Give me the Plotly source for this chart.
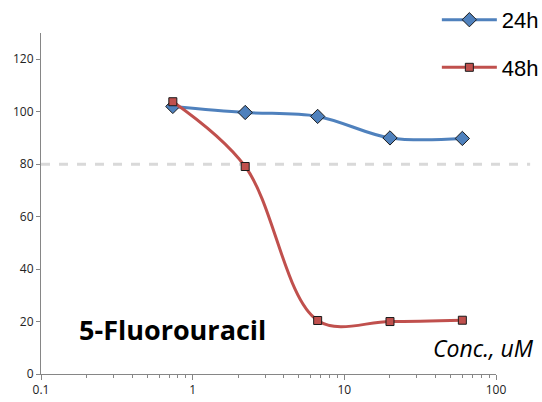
import plotly.graph_objects as go

# Concentrations (uM), three-fold dilution series
conc = [0.74, 2.22, 6.67, 20, 60]
# Viability (%) at each concentration
viab_24h = [102.0, 99.7, 98.2, 90.0, 89.8]
viab_48h = [103.8, 79.1, 20.4, 20.0, 20.5]
series_names = ["24h", "48h"]
y_ticks = [0, 20, 40, 60, 80, 100, 120]
x_ticks = [0.1, 1, 10, 100]
x_tick_labels = ["0.1", "1", "10", "100"]
threshold = 80

BLUE = "#4F81BD"
RED = "#C0504D"
AXIS = "#868686"

fig = go.Figure()
fig.add_trace(go.Scatter(
    x=conc, y=viab_24h, name=series_names[0], legendgroup="a",
    mode="lines+markers",
    line=dict(color=BLUE, width=3, shape="spline", smoothing=1),
    marker=dict(symbol="diamond", size=11, color=BLUE,
                line=dict(color="#1a1a1a", width=1)),
))
fig.add_trace(go.Scatter(
    x=conc, y=viab_48h, name=series_names[1], legendgroup="b",
    mode="lines+markers",
    line=dict(color=RED, width=3, shape="spline", smoothing=1),
    marker=dict(symbol="square", size=8, color=RED,
                line=dict(color="#1a1a1a", width=1)),
))

# 80% reference line
fig.add_shape(type="line", xref="paper", yref="y",
              x0=0, x1=1.075, y0=threshold, y1=threshold,
              line=dict(color="#D9D9D9", width=3, dash="dash"), layer="below")

fig.add_annotation(text="<b>5-Fluorouracil</b>", xref="paper", yref="paper",
                   x=0.08, y=0.13, xanchor="left", yanchor="middle",
                   showarrow=False, font=dict(size=27, color="black", family="Open Sans"))
fig.add_annotation(text="<i>Conc., uM</i>", xref="paper", yref="paper",
                   x=1.087, y=0.075, xanchor="right", yanchor="middle",
                   showarrow=False, font=dict(size=23, color="black", family="Open Sans"))

fig.update_layout(
    width=542, height=402,
    margin=dict(l=41, r=46, t=33, b=28, autoexpand=False),
    paper_bgcolor="white", plot_bgcolor="white",
    font=dict(family="Open Sans", size=12, color="#222222"),
    showlegend=True,
    legend=dict(x=0.87, y=1.1, xanchor="left", yanchor="top",
                font=dict(size=22, family="Liberation Sans", color="black"),
                tracegroupgap=16, itemwidth=55, bgcolor="rgba(0,0,0,0)"),
    xaxis=dict(type="log", range=[-1, 2], tickvals=x_ticks, ticktext=x_tick_labels,
               showgrid=False, zeroline=False, showline=True, linecolor=AXIS,
               linewidth=1, ticks="outside", ticklen=5, tickcolor=AXIS,
               minor=dict(ticks="outside", ticklen=3, tickcolor=AXIS,
                          dtick="D1", showgrid=False)),
    yaxis=dict(range=[0, 130], tickvals=y_ticks, showgrid=False, zeroline=False,
               showline=True, linecolor=AXIS, linewidth=1, ticks="outside",
               ticklen=4, tickcolor=AXIS),
)

fig.write_html("out.html")
